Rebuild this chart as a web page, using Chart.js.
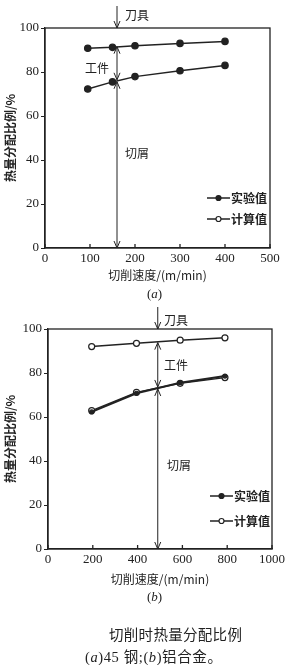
<!DOCTYPE html>
<html>
<head>
<meta charset="utf-8">
<script src="https://cdn.jsdelivr.net/npm/chart.js@4"></script>
<style>
  body { margin:0; background:#fff; width:288px; height:665px; position:relative; overflow:hidden; }
  .cv { position:absolute; left:0; width:288px; height:310px; }
  .txt { position:absolute; color:#222; font-family:"Liberation Serif","Noto Sans CJK SC",serif; white-space:nowrap; }
</style>
</head>
<body>
<div class="cv" style="top:0"><canvas id="chartA" width="288" height="310"></canvas></div>
<div class="cv" style="top:300px"><canvas id="chartB" width="288" height="310"></canvas></div>
<div class="txt" style="left:147px;top:286px;font-size:13px">(<i>a</i>)</div>
<div class="txt" style="left:147px;top:589px;font-size:13px">(<i>b</i>)</div>
<div class="txt" style="left:109px;top:623px;font-size:14.5px;font-family:'Noto Sans CJK SC';letter-spacing:0.3px">切削时热量分配比例</div>
<div class="txt" style="left:85px;top:645px;font-size:14.5px;letter-spacing:0.6px">(<i>a</i>)45 钢;(<i>b</i>)铝合金。</div>
<script>
// ---- data (a): 45 steel ----
const speedA = [95, 150, 200, 300, 400];
const toolA = [90.8, 91.2, 91.9, 93.0, 93.9];      // tool / workpiece boundary
const chipA = [72.3, 75.5, 77.9, 80.6, 83.0];      // workpiece / chip boundary
const arrowA = { x: 160, tool: 91.5, chip: 76 };

// ---- data (b): aluminium alloy ----
const speedB = [195, 395, 590, 790];
const toolB = [92.0, 93.5, 94.9, 96.0];
const chipBCalc = [62.9, 71.2, 75.3, 77.9];
const chipBExp = [62.3, 70.8, 75.6, 78.6];
const arrowB = { x: 490, tool: 93.8, chip: 73.2 };

const INK = '#222';
const numFont = { family: 'Liberation Serif', size: 13 };
const cjkFont = '"Noto Sans CJK SC", sans-serif';

function xy(xs, ys) { return xs.map((x, i) => ({ x, y: ys[i] })); }

function arrowHead(ctx, x, y, dir) {
  ctx.beginPath();
  ctx.moveTo(x - 3, y - dir * 7);
  ctx.lineTo(x, y);
  ctx.lineTo(x + 3, y - dir * 7);
  ctx.stroke();
}

function decorPlugin(arrow, labels, legendPos) {
  return {
    id: 'decor',
    afterDraw(chart) {
      const { ctx, chartArea: a, scales } = chart;
      const xs = scales.x, ys = scales.y;
      ctx.save();
      ctx.strokeStyle = INK; ctx.fillStyle = INK; ctx.lineWidth = 1.3;
      // frame
      ctx.strokeRect(a.left, a.top, a.right - a.left, a.bottom - a.top);
      // inward x ticks
      xs.ticks.forEach(t => {
        const px = xs.getPixelForValue(t.value);
        ctx.beginPath(); ctx.moveTo(px, a.bottom); ctx.lineTo(px, a.bottom - 4); ctx.stroke();
      });
      // arrows
      const ax = xs.getPixelForValue(arrow.x);
      const yT = ys.getPixelForValue(arrow.tool), yC = ys.getPixelForValue(arrow.chip);
      ctx.lineWidth = 1;
      ctx.beginPath(); ctx.moveTo(ax, a.top - 22); ctx.lineTo(ax, a.top); ctx.stroke();
      arrowHead(ctx, ax, a.top, 1);
      ctx.beginPath(); ctx.moveTo(ax, yT); ctx.lineTo(ax, yC - 1); ctx.stroke();
      arrowHead(ctx, ax, yT, -1); arrowHead(ctx, ax, yC - 1, 1);
      ctx.beginPath(); ctx.moveTo(ax, yC + 1); ctx.lineTo(ax, a.bottom); ctx.stroke();
      arrowHead(ctx, ax, yC + 1, -1); arrowHead(ctx, ax, a.bottom, 1);
      // region labels
      ctx.font = '12px ' + cjkFont; ctx.textBaseline = 'middle'; ctx.textAlign = 'left';
      labels.forEach(l => ctx.fillText(l.text, l.x, l.y));
      // legend
      const items = [{ text: '实验值', fill: INK }, { text: '计算值', fill: '#fff' }];
      items.forEach((it, i) => {
        const ly = legendPos.y + i * legendPos.gap;
        ctx.lineWidth = 1.5;
        ctx.beginPath(); ctx.moveTo(legendPos.x, ly); ctx.lineTo(legendPos.x + 23, ly); ctx.stroke();
        ctx.beginPath(); ctx.arc(legendPos.x + 11.5, ly, 2.5, 0, Math.PI * 2);
        ctx.fillStyle = it.fill; ctx.fill(); ctx.lineWidth = 1.2; ctx.stroke();
        ctx.fillStyle = INK; ctx.font = 'bold 12px ' + cjkFont;
        ctx.fillText(it.text, legendPos.x + 24, ly);
      });
      ctx.restore();
    }
  };
}

function makeOptions(xMax, xStep, yAxisW, padRight, padTop, xAxisH, titlePad) {
  return {
    responsive: false, animation: false,
    layout: { padding: { left: 0, right: padRight, top: padTop, bottom: 0 } },
    plugins: { legend: { display: false }, tooltip: { enabled: false } },
    scales: {
      x: {
        type: 'linear', min: 0, max: xMax,
        ticks: { stepSize: xStep, color: INK, font: numFont, padding: 3, maxRotation: 0, callback: v => String(v) },
        grid: { display: false, drawTicks: false },
        border: { color: INK, width: 1.3 },
        title: { display: true, text: '切削速度/(m/min)', color: INK, font: { family: 'Noto Sans CJK SC', size: 12 }, padding: { top: 0, bottom: titlePad } },
        afterFit(s) { s.height = xAxisH; }
      },
      y: {
        min: 0, max: 100,
        ticks: { stepSize: 20, color: INK, font: numFont, padding: 2 },
        grid: { drawOnChartArea: false, tickLength: 4, color: INK, tickColor: INK },
        border: { color: INK, width: 1.3 },
        title: { display: true, text: '热量分配比例/%', color: INK, font: { family: 'Noto Sans CJK SC', size: 12, weight: 'bold' }, padding: { top: 3, bottom: 0 } },
        afterFit(s) { s.width = yAxisW; }
      }
    }
  };
}

const lineBase = { borderColor: INK, borderWidth: 1.5, pointBorderColor: INK, pointBorderWidth: 1.2, tension: 0 };

new Chart(document.getElementById('chartA'), {
  type: 'line',
  data: { datasets: [
    { ...lineBase, data: xy(speedA, toolA), pointRadius: 3.2, pointBackgroundColor: INK },
    { ...lineBase, data: xy(speedA, chipA), pointRadius: 3.2, pointBackgroundColor: INK }
  ] },
  options: makeOptions(500, 100, 45, 18, 28, 62, 27),
  plugins: [decorPlugin(arrowA,
    [{ text: '刀具', x: 125, y: 15 }, { text: '工件', x: 85, y: 68 }, { text: '切屑', x: 125, y: 153 }],
    { x: 207, y: 198, gap: 21 })]
});

new Chart(document.getElementById('chartB'), {
  type: 'line',
  data: { datasets: [
    { ...lineBase, data: xy(speedB, toolB), pointRadius: 3, pointBackgroundColor: '#fff' },
    { ...lineBase, data: xy(speedB, chipBExp), pointRadius: 2, pointBackgroundColor: INK, borderWidth: 2 },
    { ...lineBase, data: xy(speedB, chipBCalc), pointRadius: 3, pointBackgroundColor: '#fff' }
  ] },
  options: makeOptions(1000, 200, 48, 15, 29, 61, 23),
  plugins: [decorPlugin(arrowB,
    [{ text: '刀具', x: 164, y: 20 }, { text: '工件', x: 164, y: 65 }, { text: '切屑', x: 167, y: 165 }],
    { x: 210, y: 196, gap: 25 })]
});
</script>
</body>
</html>
